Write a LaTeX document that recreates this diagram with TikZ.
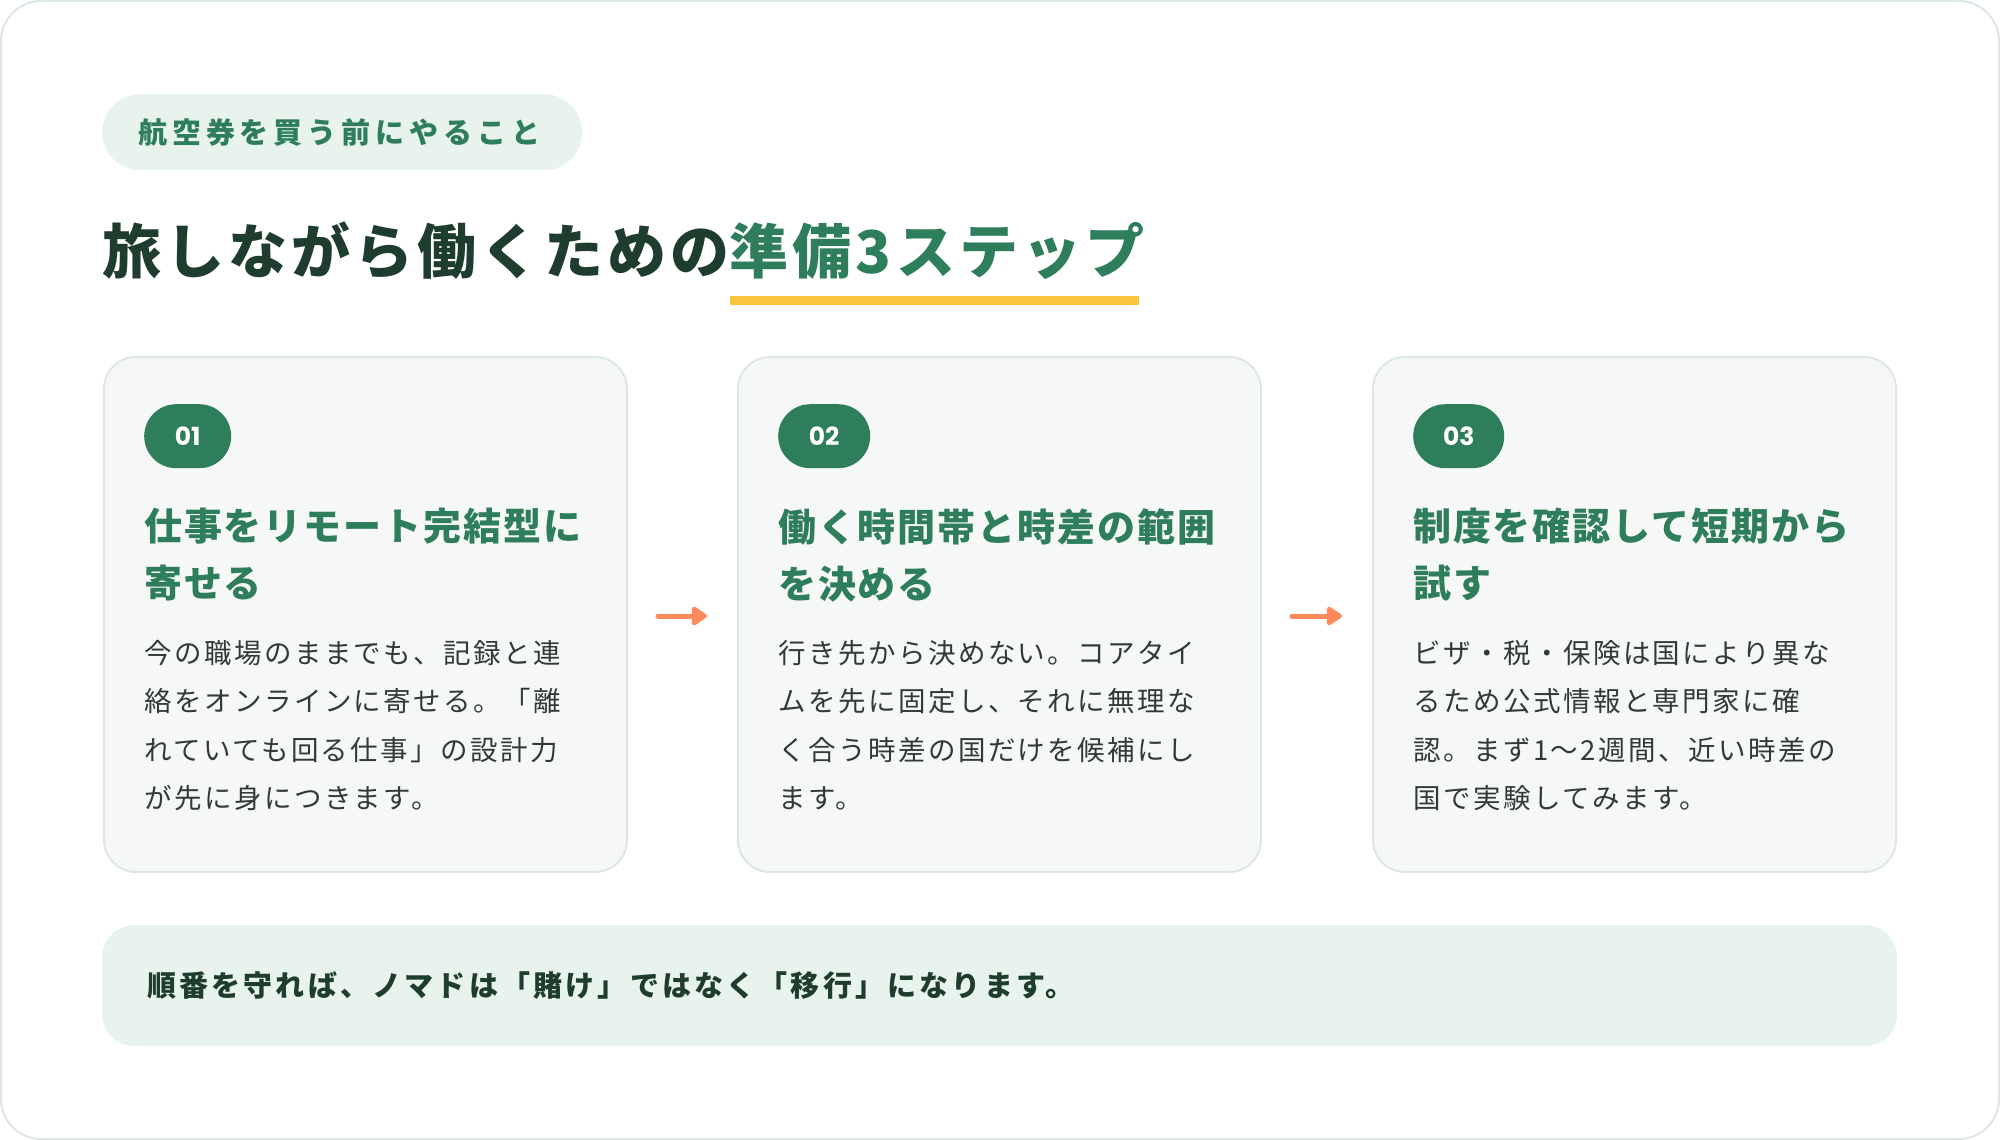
\documentclass[tikz,border=0pt]{standalone}
\usepackage{fontspec}
\setmainfont{Noto Sans CJK JP}
\newfontfamily\pop{Poppins}
\usetikzlibrary{arrows.meta}
\definecolor{dkgreen}{HTML}{1F3D2F}
\definecolor{accgreen}{HTML}{2E7D5B}
\definecolor{tagbg}{HTML}{E8F3EE}
\definecolor{cardbg}{HTML}{F6F8F7}
\definecolor{cardline}{HTML}{DDE8E3}
\definecolor{bodytext}{HTML}{333A36}
\definecolor{arrorange}{HTML}{FF8A5B}
\definecolor{ulyellow}{HTML}{FBC43D}
\begin{document}
\begin{tikzpicture}[x=1pt,y=-1pt,
  card/.style={draw=cardline, fill=cardbg, line width=2pt, rounded corners=32pt,
    minimum width=523pt, minimum height=515pt, anchor=north west, inner sep=0pt},
  badge/.style={fill=accgreen, rounded corners=32pt, minimum height=64pt, inner sep=0pt,
    anchor=north west, text=white, font=\pop\bfseries\fontsize{25}{25}\selectfont},
  heading/.style={anchor=north west, inner sep=0pt, align=left, text=accgreen,
    font=\fontsize{38}{57}\selectfont\bfseries\addfontfeatures{LetterSpace=5}},
  body/.style={anchor=north west, inner sep=0pt, align=left, text=bodytext,
    font=\fontsize{27.5}{48.5}\selectfont\addfontfeatures{LetterSpace=9}},
  arr/.style={draw=arrorange, line width=5pt, line cap=round,
    -{Triangle[length=17pt,width=21pt,round]}},
  ]
\useasboundingbox (0,0) rectangle (2000,1140);
\draw[cardline, line width=2pt, rounded corners=40pt, fill=white] (1,1) rectangle (1999,1139);

% tag
\node[fill=tagbg, rounded corners=38pt, minimum width=480pt, minimum height=76pt,
  anchor=north west, inner sep=0pt] (tag) at (102,94) {};
\node[anchor=west, inner sep=0pt, text=accgreen,
  font=\fontsize{29}{29}\selectfont\bfseries\addfontfeatures{LetterSpace=17}] (tagtext) at (138,133) {航空券を買う前にやること};

% title
\node[anchor=west, inner sep=0pt, text=dkgreen,
  font=\fontsize{59}{59}\selectfont\bfseries\addfontfeatures{LetterSpace=7}] (title1) at (102,251) {旅しながら働くための};
\node[anchor=west, inner sep=0pt, text=accgreen,
  font=\fontsize{59}{59}\selectfont\bfseries\addfontfeatures{LetterSpace=7}] (title2) at (title1.east) {準備3ステップ};
\fill[ulyellow] ([yshift=-16pt]title2.south west) rectangle ([xshift=-6pt,yshift=-25pt]title2.south east);

% cards
\node[card] (c1) at (103,356) {};
\node[card] (c2) at (737,356) {};
\node[card] (c3) at (1372,356) {};

\node[badge, minimum width=87pt] (b1) at (144,404) {01};
\node[badge, minimum width=92pt] (b2) at (778,404) {02};
\node[badge, minimum width=91pt] (b3) at (1413,404) {03};

\node[heading] (h1) at (144,508) {仕事をリモート完結型に\\寄せる};
\node[heading] (h2) at (778,508) {働く時間帯と時差の範囲\\を決める};
\node[heading] (h3) at (1413,508) {制度を確認して短期から\\試す};

\node[body] (t1) at (144,640) {今の職場のままでも、記録と連\\絡をオンラインに寄せる。「離\\れていても回る仕事」の設計力\\が先に身につきます。};
\node[body] (t2) at (778,640) {行き先から決めない。コアタイ\\ムを先に固定し、それに無理な\\く合う時差の国だけを候補にし\\ます。};
\node[body] (t3) at (1413,640) {ビザ・税・保険は国により異な\\るため公式情報と専門家に確\\認。まず1〜2週間、近い時差の\\国で実験してみます。};

% arrows
\draw[arr] ([xshift=30pt,yshift=-1.5pt]c1.east) -- ([xshift=-30pt,yshift=-1.5pt]c2.west);
\draw[arr] ([xshift=30pt,yshift=-1.5pt]c2.east) -- ([xshift=-30pt,yshift=-1.5pt]c3.west);

% bottom bar
\node[fill=tagbg, rounded corners=32pt, minimum width=1795pt, minimum height=121pt,
  anchor=north west, inner sep=0pt] (bar) at (102,925) {};
\node[anchor=west, inner sep=0pt, text=dkgreen,
  font=\fontsize{29}{29}\selectfont\bfseries\addfontfeatures{LetterSpace=11}] (bartext) at (147,986) {順番を守れば、ノマドは「賭け」ではなく「移行」になります。};
\end{tikzpicture}
\end{document}
